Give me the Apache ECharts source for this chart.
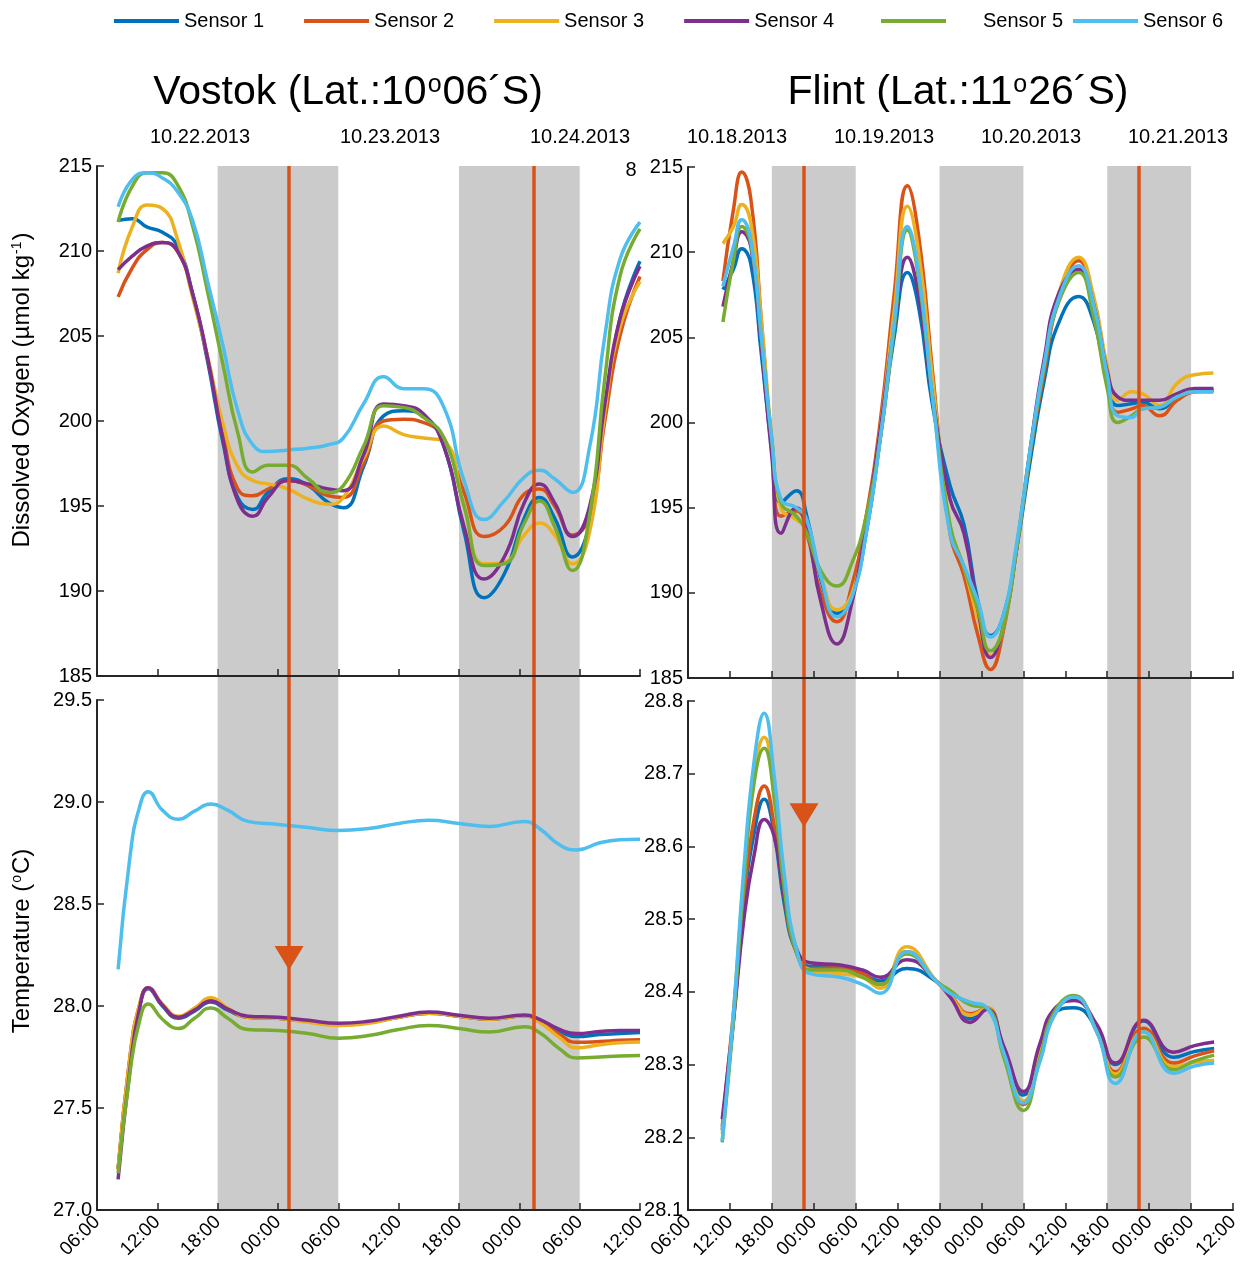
<!DOCTYPE html>
<html>
<head>
<meta charset="utf-8">
<script src="https://cdn.jsdelivr.net/npm/echarts@6/dist/echarts.min.js"></script>
<style>
  html, body { margin: 0; padding: 0; background: #ffffff; }
  #chart { width: 1251px; height: 1268px; }
</style>
</head>
<body>
<div id="chart"></div>
<script>
// ---- sensors ----
const SENSORS = ['Sensor 1', 'Sensor 2', 'Sensor 3', 'Sensor 4', 'Sensor 5', 'Sensor 6'];
const COLORS = ['#0072BD', '#D95319', '#EDB120', '#7E2F8E', '#77AC30', '#4DBEEE'];

// ---- sample times (hours since 06:00 of the first plotted day) ----
const VOSTOK_O2_HOURS = [2.1, 3.5, 5, 6.5, 8, 9.5, 11, 12.5, 14, 15.5, 17, 19, 21, 23, 24.5, 26.5, 28.5, 30.5, 32.5, 34.5, 36.5, 38.5, 40.5, 42.5, 44, 45.5, 47.3, 49, 50.5, 52, 54];
const VOSTOK_TEMP_HOURS = [2.1, 3.3, 4.2, 5.1, 6.5, 8.1, 9.7, 11.3, 13, 15, 18, 21, 24, 27, 30, 33, 36, 39, 42.5, 44, 46, 47.7, 50, 52, 54];
const FLINT_O2_HOURS = [5, 6.5, 7.7, 9, 10.5, 12, 13.3, 15.5, 17, 19, 21.3, 23.5, 25.5, 27.5, 29.5, 31.4, 33, 35, 37.5, 39.5, 41.5, 43.3, 45, 47, 49, 51, 53, 55.9, 58, 60, 61.5, 63.5, 65, 67.5, 70, 72.5, 75.2];
const FLINT_TEMP_HOURS = [4.9, 6.5, 8, 9.5, 10.9, 12.3, 13.8, 15.5, 17.5, 21.8, 25, 27.5, 31.3, 35.6, 37.5, 40.4, 42.8, 45.2, 48, 50.4, 52.3, 55.2, 58.5, 61.2, 65.2, 69.5, 72.5, 75.3];

const TIME_TICKS_VOSTOK = ['06:00', '12:00', '18:00', '00:00', '06:00', '12:00', '18:00', '00:00', '06:00', '12:00'];
const TIME_TICKS_FLINT = ['06:00', '12:00', '18:00', '00:00', '06:00', '12:00', '18:00', '00:00', '06:00', '12:00', '18:00', '00:00', '06:00', '12:00'];
const DATES_VOSTOK = ['10.22.2013', '10.23.2013', '10.24.2013'];
const DATES_FLINT = ['10.18.2013', '10.19.2013', '10.20.2013', '10.21.2013'];

// night periods (18:00 - 06:00) and event times, in hours
const NIGHTS_VOSTOK = [[12, 24], [36, 48]];
const NIGHTS_FLINT = [[12, 24], [36, 48], [60, 72]];
const EVENTS_VOSTOK = [19.1, 43.4];
const EVENTS_FLINT = [16.6, 64.5];
const ARROW_VOSTOK = [19.1, 28.235];
const ARROW_FLINT = [16.6, 28.643];

// ---- Vostok dissolved oxygen (umol/kg) ----
const vostokOxygen1 = [211.8, 211.9, 211.4, 211.1, 210.3, 207.5, 203.5, 198.8, 195.5, 194.8, 195.8, 196.6, 196.2, 195.2, 194.9, 197.3, 200.3, 200.6, 200.3, 198.5, 193.5, 189.6, 191.0, 194.3, 195.5, 194.3, 192.0, 194.0, 200.5, 206.0, 209.4];
const vostokOxygen2 = [207.3, 209.0, 210.1, 210.5, 210.0, 207.5, 203.7, 199.3, 196.0, 195.6, 196.0, 196.5, 196.2, 195.6, 195.5, 197.5, 200.0, 200.1, 199.9, 199.0, 195.8, 193.2, 193.8, 195.7, 196.0, 195.0, 193.3, 194.5, 200.0, 205.0, 208.5];
const vostokOxygen3 = [208.7, 211.4, 212.7, 212.5, 210.7, 207.3, 203.8, 199.9, 197.3, 196.5, 196.3, 196.0, 195.4, 195.1, 195.5, 197.8, 199.7, 199.2, 199.0, 198.8, 195.0, 191.6, 191.7, 193.3, 194.0, 193.3, 191.6, 193.5, 200.5, 205.5, 208.2];
const vostokOxygen4 = [208.9, 209.7, 210.3, 210.5, 210.0, 207.5, 203.7, 199.0, 195.3, 194.4, 195.5, 196.5, 196.3, 196.0, 195.9, 198.0, 201.0, 200.9, 200.4, 198.5, 193.8, 190.7, 192.0, 195.2, 196.3, 195.2, 193.2, 195.0, 201.0, 206.0, 209.1];
const vostokOxygen5 = [211.7, 213.8, 214.6, 214.6, 213.9, 211.5, 207.6, 203.4, 199.3, 197.0, 197.4, 197.4, 196.6, 195.8, 196.2, 198.5, 200.9, 200.8, 200.2, 199.0, 195.0, 191.5, 191.6, 194.0, 195.3, 193.8, 191.2, 194.5, 202.5, 208.5, 211.3];
const vostokOxygen6 = [212.6, 214.2, 214.6, 214.3, 213.5, 211.8, 208.2, 204.5, 200.6, 198.6, 198.2, 198.3, 198.4, 198.6, 199.0, 201.0, 202.6, 201.9, 201.9, 200.8, 196.5, 194.2, 195.3, 196.7, 197.1, 196.6, 195.8, 198.5, 205.0, 209.5, 211.7];

// ---- Vostok temperature (degC) ----
const vostokTemp1 = [27.20, 27.75, 27.99, 28.085, 28.00, 27.94, 27.975, 28.02, 27.98, 27.945, 27.94, 27.925, 27.91, 27.92, 27.945, 27.965, 27.95, 27.935, 27.952, 27.93, 27.875, 27.85, 27.86, 27.865, 27.87];
const vostokTemp2 = [27.20, 27.76, 28.00, 28.09, 28.005, 27.945, 27.98, 28.03, 27.985, 27.945, 27.94, 27.925, 27.91, 27.92, 27.945, 27.965, 27.95, 27.935, 27.952, 27.925, 27.86, 27.822, 27.826, 27.832, 27.835];
const vostokTemp3 = [27.20, 27.76, 28.00, 28.09, 28.01, 27.95, 27.99, 28.04, 27.99, 27.945, 27.94, 27.92, 27.905, 27.915, 27.945, 27.965, 27.95, 27.935, 27.952, 27.92, 27.845, 27.795, 27.81, 27.82, 27.823];
const vostokTemp4 = [27.15, 27.70, 27.98, 28.09, 28.005, 27.945, 27.98, 28.025, 27.985, 27.95, 27.945, 27.93, 27.915, 27.925, 27.95, 27.97, 27.955, 27.94, 27.956, 27.935, 27.885, 27.865, 27.875, 27.88, 27.88];
const vostokTemp5 = [27.18, 27.68, 27.92, 28.01, 27.935, 27.89, 27.94, 27.99, 27.94, 27.885, 27.88, 27.865, 27.842, 27.855, 27.885, 27.905, 27.89, 27.872, 27.898, 27.87, 27.79, 27.745, 27.75, 27.755, 27.757];
const vostokTemp6 = [28.18, 28.74, 28.97, 29.05, 28.96, 28.915, 28.955, 28.99, 28.96, 28.905, 28.89, 28.875, 28.86, 28.87, 28.895, 28.91, 28.895, 28.88, 28.905, 28.87, 28.79, 28.765, 28.80, 28.815, 28.818];

// ---- Flint dissolved oxygen (umol/kg) ----
const flintOxygen1 = [207.8, 209.0, 210.2, 209.3, 204.0, 198.5, 195.3, 196.0, 194.5, 190.8, 188.8, 190.0, 193.5, 199.0, 205.0, 208.8, 206.8, 201.0, 196.3, 194.0, 189.5, 187.5, 188.5, 192.5, 197.8, 202.5, 205.8, 207.4, 206.0, 202.5, 201.0, 201.1, 201.2, 200.8, 201.5, 201.9, 201.9];
const flintOxygen2 = [208.3, 212.5, 214.7, 213.1, 206.0, 198.5, 194.5, 194.8, 193.5, 190.0, 188.3, 190.5, 194.5, 200.0, 207.5, 213.9, 211.0, 203.0, 193.5, 191.0, 187.5, 185.5, 187.5, 192.5, 198.3, 203.0, 207.2, 209.5, 207.0, 202.5, 200.6, 200.8, 201.0, 200.4, 201.3, 201.8, 201.9];
const flintOxygen3 = [210.5, 211.5, 212.8, 211.7, 206.0, 199.0, 195.0, 194.3, 193.8, 191.0, 189.0, 190.0, 194.0, 199.5, 206.5, 212.7, 210.0, 202.5, 194.0, 191.5, 188.5, 186.3, 187.7, 192.5, 198.5, 203.5, 207.5, 209.7, 207.5, 203.3, 201.3, 201.8, 201.7, 201.0, 202.3, 202.8, 202.9];
const flintOxygen4 = [206.8, 209.5, 211.2, 210.3, 204.5, 198.0, 193.5, 195.0, 193.8, 189.5, 187.0, 189.5, 194.0, 199.5, 205.5, 209.7, 207.5, 201.5, 195.5, 193.5, 189.0, 186.2, 187.8, 192.5, 198.5, 203.8, 207.5, 209.0, 207.0, 203.0, 201.5, 201.3, 201.3, 201.3, 201.7, 202.0, 202.0];
const flintOxygen5 = [205.9, 209.5, 211.5, 210.5, 205.0, 199.0, 195.3, 194.5, 193.5, 191.3, 190.4, 191.8, 194.5, 199.0, 205.5, 211.3, 208.5, 201.5, 194.0, 191.5, 189.0, 186.6, 187.8, 192.5, 198.3, 203.3, 207.0, 208.8, 206.3, 202.0, 200.0, 200.4, 200.8, 200.9, 201.5, 201.8, 201.8];
const flintOxygen6 = [208.0, 210.3, 211.9, 210.7, 205.0, 199.0, 195.5, 195.0, 194.3, 191.0, 188.6, 189.8, 193.5, 199.0, 205.8, 211.5, 208.8, 201.5, 193.5, 191.6, 189.5, 187.4, 188.5, 192.8, 198.5, 203.5, 207.2, 209.2, 207.0, 202.8, 200.4, 200.3, 200.8, 200.9, 201.5, 201.8, 201.8];

// ---- Flint temperature (degC) ----
const flintTemp1 = [28.21, 28.36, 28.52, 28.62, 28.665, 28.62, 28.52, 28.455, 28.435, 28.435, 28.425, 28.415, 28.432, 28.414, 28.395, 28.363, 28.376, 28.32, 28.258, 28.325, 28.37, 28.378, 28.35, 28.30, 28.36, 28.31, 28.318, 28.322];
const flintTemp2 = [28.215, 28.37, 28.53, 28.64, 28.683, 28.63, 28.53, 28.455, 28.432, 28.433, 28.425, 28.41, 28.455, 28.414, 28.396, 28.37, 28.378, 28.316, 28.245, 28.32, 28.37, 28.39, 28.35, 28.29, 28.35, 28.302, 28.312, 28.319];
const flintTemp3 = [28.205, 28.37, 28.56, 28.70, 28.75, 28.68, 28.55, 28.46, 28.43, 28.425, 28.42, 28.405, 28.462, 28.414, 28.395, 28.368, 28.378, 28.316, 28.25, 28.315, 28.37, 28.392, 28.35, 28.287, 28.345, 28.297, 28.303, 28.306];
const flintTemp4 = [28.225, 28.36, 28.50, 28.59, 28.637, 28.615, 28.53, 28.46, 28.44, 28.437, 28.43, 28.42, 28.444, 28.414, 28.393, 28.358, 28.376, 28.325, 28.263, 28.33, 28.375, 28.388, 28.355, 28.302, 28.361, 28.317, 28.326, 28.331];
const flintTemp5 = [28.193, 28.36, 28.55, 28.69, 28.735, 28.67, 28.54, 28.455, 28.43, 28.43, 28.42, 28.41, 28.452, 28.414, 28.402, 28.382, 28.378, 28.31, 28.237, 28.31, 28.37, 28.395, 28.345, 28.283, 28.338, 28.293, 28.305, 28.313];
const flintTemp6 = [28.195, 28.37, 28.57, 28.72, 28.783, 28.70, 28.56, 28.46, 28.425, 28.42, 28.41, 28.398, 28.455, 28.414, 28.398, 28.386, 28.378, 28.316, 28.247, 28.305, 28.365, 28.393, 28.345, 28.274, 28.345, 28.288, 28.298, 28.302];

const PANELS = [
  { grid: 0, hours: VOSTOK_O2_HOURS, values: [vostokOxygen1, vostokOxygen2, vostokOxygen3, vostokOxygen4, vostokOxygen5, vostokOxygen6] },
  { grid: 1, hours: VOSTOK_TEMP_HOURS, values: [vostokTemp1, vostokTemp2, vostokTemp3, vostokTemp4, vostokTemp5, vostokTemp6] },
  { grid: 2, hours: FLINT_O2_HOURS, values: [flintOxygen1, flintOxygen2, flintOxygen3, flintOxygen4, flintOxygen5, flintOxygen6] },
  { grid: 3, hours: FLINT_TEMP_HOURS, values: [flintTemp1, flintTemp2, flintTemp3, flintTemp4, flintTemp5, flintTemp6] }
];

const FONT = '"Liberation Sans", Arial, Helvetica, sans-serif';
const INK = '#000000';
const AXIS_INK = '#262626';
const NIGHT = '#cbcbcb';
const EVENT = '#D95319';

const chart = echarts.init(document.getElementById('chart'), null, { renderer: 'canvas' });

// ---- grids: 0..3 data panels, 4..5 full-height overlays for night bands and events ----
const grids = [
  { left: 97, top: 166, width: 543, height: 510 },
  { left: 97, top: 700, width: 543, height: 510 },
  { left: 688, top: 167, width: 545, height: 511 },
  { left: 688, top: 701, width: 545, height: 509 },
  { left: 97, top: 166, width: 543, height: 1044 },
  { left: 688, top: 166, width: 545, height: 1044 }
];

function timeAxis(gridIndex, max, ticks, showLabels) {
  return {
    type: 'value', gridIndex, min: 0, max, interval: 6, z: 6,
    axisLine: { show: true, onZero: false, lineStyle: { color: AXIS_INK, width: 2 } },
    axisTick: { show: true, inside: true, length: 7, lineStyle: { color: AXIS_INK, width: 1.5 } },
    splitLine: { show: false },
    axisLabel: {
      show: showLabels, rotate: 45, margin: 9, fontSize: 19, fontFamily: FONT, color: INK,
      formatter: (v) => ticks[Math.round(v / 6)] || ''
    }
  };
}
function valueAxis(gridIndex, min, max, interval, digits) {
  return {
    type: 'value', gridIndex, min, max, interval, z: 6,
    axisLine: { show: true, onZero: false, lineStyle: { color: AXIS_INK, width: 2 } },
    axisTick: { show: true, inside: true, length: 7, lineStyle: { color: AXIS_INK, width: 1.5 } },
    splitLine: { show: false },
    axisLabel: { margin: 5, fontSize: 20, fontFamily: FONT, color: INK, formatter: (v) => v.toFixed(digits) }
  };
}
function hiddenAxis(gridIndex, min, max) {
  return { type: 'value', gridIndex, min, max, show: false, splitLine: { show: false } };
}

const xAxes = [
  timeAxis(0, 54, TIME_TICKS_VOSTOK, false),
  timeAxis(1, 54, TIME_TICKS_VOSTOK, true),
  timeAxis(2, 78, TIME_TICKS_FLINT, false),
  timeAxis(3, 78, TIME_TICKS_FLINT, true),
  hiddenAxis(4, 0, 54),
  hiddenAxis(5, 0, 78)
];
const yAxes = [
  valueAxis(0, 185, 215, 5, 0),
  valueAxis(1, 27, 29.5, 0.5, 1),
  valueAxis(2, 185, 215, 5, 0),
  valueAxis(3, 28.1, 28.8, 0.1, 1),
  hiddenAxis(4, 0, 1),
  hiddenAxis(5, 0, 1)
];

const series = [];

// night shading and event lines, drawn on the full-height overlays
[[4, NIGHTS_VOSTOK, EVENTS_VOSTOK], [5, NIGHTS_FLINT, EVENTS_FLINT]].forEach(([g, nights, events]) => {
  series.push({
    type: 'line', name: 'night', xAxisIndex: g, yAxisIndex: g, data: [], z: 1, silent: true,
    markArea: {
      silent: true,
      itemStyle: { color: NIGHT, opacity: 1 },
      data: nights.map(([a, b]) => [{ xAxis: a }, { xAxis: b }])
    }
  });
  series.push({
    type: 'line', name: 'event', xAxisIndex: g, yAxisIndex: g, data: [], z: 5, silent: true,
    markLine: {
      silent: true, symbol: 'none', label: { show: false },
      lineStyle: { color: EVENT, width: 3.5, type: 'solid' },
      data: events.map((t) => ({ xAxis: t }))
    }
  });
});

// sensor curves
PANELS.forEach((p) => {
  p.values.forEach((vals, i) => {
    series.push({
      type: 'line', name: SENSORS[i], xAxisIndex: p.grid, yAxisIndex: p.grid,
      data: p.hours.map((h, k) => [h, vals[k]]),
      smooth: 0.5, showSymbol: false, symbol: 'none', z: 3 + i * 0.01,
      color: COLORS[i],
      lineStyle: { color: COLORS[i], width: 3.5 },
      emphasis: { disabled: true }
    });
  });
});

// event arrows on the temperature panels
[[1, ARROW_VOSTOK], [3, ARROW_FLINT]].forEach(([g, pt]) => {
  series.push({
    type: 'scatter', name: 'arrow', xAxisIndex: g, yAxisIndex: g, data: [pt], z: 5, silent: true,
    symbol: 'triangle', symbolRotate: 180, symbolSize: [29, 24],
    itemStyle: { color: EVENT, opacity: 1 }
  });
});

const legendBase = {
  top: 6, icon: 'rect', itemWidth: 65, itemHeight: 4, itemGap: 40,
  textStyle: { fontSize: 20, fontFamily: FONT, color: INK },
  selectedMode: true
};

const supRich = (size) => ({
  n: { fontSize: size, fontFamily: FONT, fill: INK },
  s: { fontSize: Math.round(size * 0.6), fontFamily: FONT, fill: INK, verticalAlign: 'top', padding: [0, 1, 0, 1] }
});

const graphics = [
  { type: 'text', x: 348, y: 93, style: { text: '{n|Vostok (Lat.:10}{s|o}{n|06´S)}', rich: supRich(41), textAlign: 'center', textVerticalAlign: 'middle' } },
  { type: 'text', x: 958, y: 93, style: { text: '{n|Flint (Lat.:11}{s|o}{n|26´S)}', rich: supRich(41), textAlign: 'center', textVerticalAlign: 'middle' } },
  { type: 'text', x: 22, y: 390, rotation: Math.PI / 2, style: { text: '{n|Dissolved Oxygen (µmol kg}{s|-1}{n|)}', rich: supRich(24), textAlign: 'center', textVerticalAlign: 'middle' } },
  { type: 'text', x: 22, y: 941, rotation: Math.PI / 2, style: { text: '{n|Temperature (}{s|o}{n|C)}', rich: supRich(24), textAlign: 'center', textVerticalAlign: 'middle' } },
  { type: 'text', x: 631, y: 170, style: { text: '8', fontSize: 20, fontFamily: FONT, fill: INK, textAlign: 'center', textVerticalAlign: 'middle' } }
];
const DATE_X_VOSTOK = [200, 390, 580];
const DATE_X_FLINT = [737, 884, 1031, 1178];
DATES_VOSTOK.forEach((d, i) => graphics.push({ type: 'text', x: DATE_X_VOSTOK[i], y: 137, style: { text: d, fontSize: 20, fontFamily: FONT, fill: INK, textAlign: 'center', textVerticalAlign: 'middle' } }));
DATES_FLINT.forEach((d, i) => graphics.push({ type: 'text', x: DATE_X_FLINT[i], y: 137, style: { text: d, fontSize: 20, fontFamily: FONT, fill: INK, textAlign: 'center', textVerticalAlign: 'middle' } }));

chart.setOption({
  backgroundColor: '#ffffff',
  animation: false,
  textStyle: { fontFamily: FONT },
  legend: [
    Object.assign({}, legendBase, { left: 109, data: SENSORS.slice(0, 4) }),
    Object.assign({}, legendBase, { left: 876, data: ['Sensor 5'], textStyle: { fontSize: 20, fontFamily: FONT, color: INK, padding: [0, 0, 0, 32] } }),
    Object.assign({}, legendBase, { left: 1068, data: ['Sensor 6'] })
  ],
  grid: grids,
  xAxis: xAxes,
  yAxis: yAxes,
  series,
  graphic: graphics
});
</script>
</body>
</html>
